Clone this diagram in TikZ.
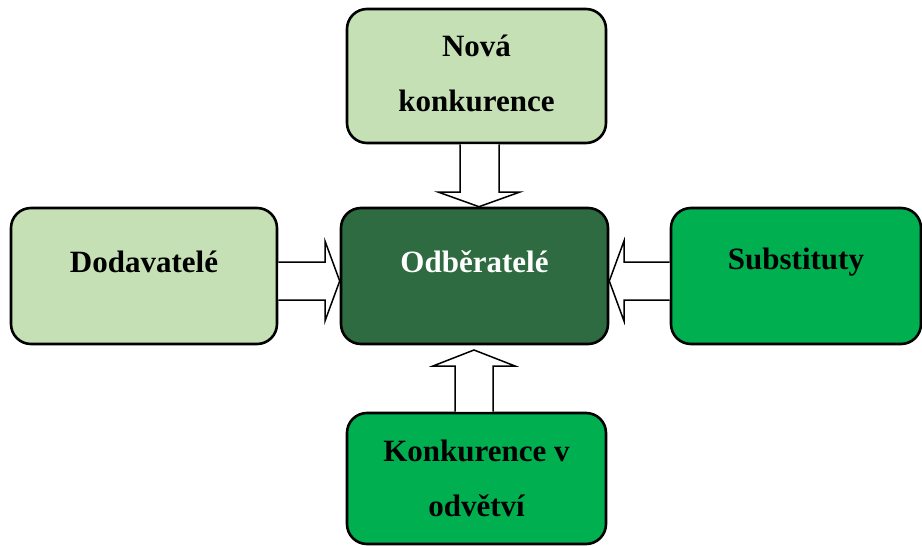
\documentclass[tikz,border=0pt]{standalone}
\usepackage{fontspec}
\setmainfont{Liberation Serif}
\usetikzlibrary{calc}
\definecolor{lightgreen}{HTML}{C5E0B4}
\definecolor{darkgreen}{HTML}{2E6B41}
\definecolor{brightgreen}{HTML}{00B050}
\tikzset{every node/.style={font=\fontsize{31}{55}\selectfont\bfseries, align=center},
  box/.style={draw=black, line width=2.6pt, rounded corners=20pt, inner sep=0pt},
  blockarrow/.style={draw=black, fill=white, line width=1.5pt, line join=miter}}

\begin{document}
\begin{tikzpicture}[x=1pt,y=-1pt]
   \useasboundingbox (0,0) rectangle (922,546);
   % boxes
   \node[box, fill=lightgreen, minimum width=266pt, minimum height=136pt] (dod) at (144,276) {};
   \node[box, fill=darkgreen, minimum width=267pt, minimum height=136pt] (odb) at (474.5,276) {};
   \node[box, fill=brightgreen, minimum width=250pt, minimum height=136pt] (sub) at (796,276) {};
   \node[box, fill=lightgreen, minimum width=259pt, minimum height=134pt] (nova) at (476.5,76) {};
   \node[box, fill=brightgreen, minimum width=259pt, minimum height=131pt] (konk) at (476.5,478.5) {};
   % arrows
   \draw[blockarrow] (dod.east |- 0,262) -- (325,262) -- (325,241) -- (odb.west |- 0,281)
      -- (325,321) -- (325,300) -- (dod.east |- 0,300);
   \draw[blockarrow] (sub.west |- 0,262) -- (624,262) -- (624,241) -- (odb.east |- 0,281)
      -- (624,321) -- (624,300) -- (sub.west |- 0,300);
   \draw[blockarrow] (nova.south -| 460,0) -- (460,192) -- (438,192) -- (odb.north -| 479,0)
      -- (520,192) -- (499,192) -- (nova.south -| 499,0);
   \draw[blockarrow] (konk.north -| 455,0) -- (455,366) -- (433,366) -- (474,350)
      -- (515,366) -- (493,366) -- (konk.north -| 493,0);
   % labels
   \node (dodtxt) at (dod.center |- 0,262) {Dodavatelé};
   \node[text=white] (odbtxt) at (odb.center |- 0,262) {Odběratelé};
   \node (subtxt) at (sub.center |- 0,262) {Substituty};
   \node (novatxt) at (nova.center |- 0,73) {Nová\\konkurence};
   \node (konktxt) at (konk.center |- 0,478) {Konkurence v\\odvětví};
\end{tikzpicture}
\end{document}
